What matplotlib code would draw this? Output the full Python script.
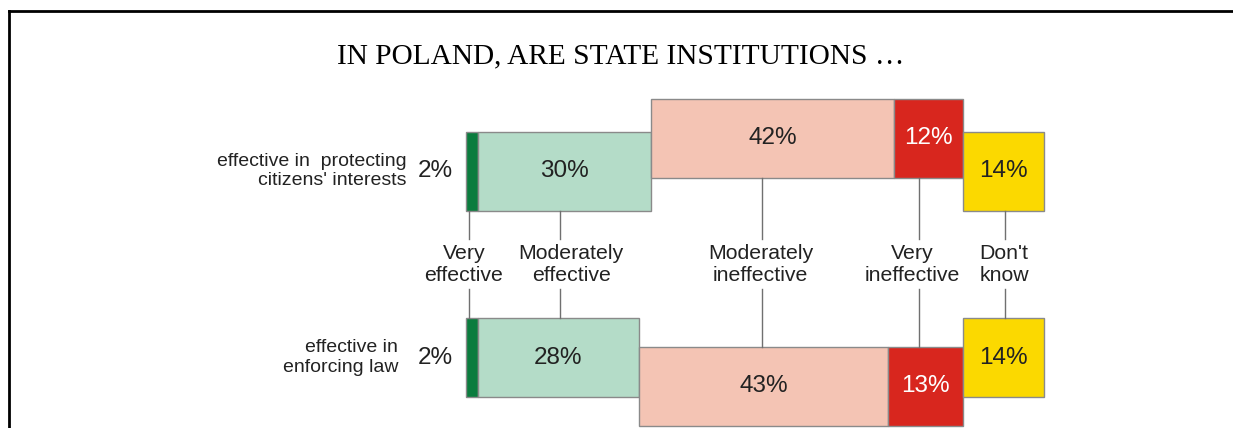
import numpy as np
import matplotlib.pyplot as plt
from matplotlib.lines import Line2D

# data
title = "IN POLAND, ARE STATE INSTITUTIONS …"
questions = ["effective in  protecting\ncitizens' interests", "effective in\nenforcing law"]
answers = ["Very\neffective", "Moderately\neffective", "Moderately\nineffective",
           "Very\nineffective", "Don't\nknow"]
protecting = [2, 30, 42, 12, 14]
enforcing = [2, 28, 43, 13, 14]
rows = [protecting, enforcing]

# style / layout
colors = ["#0b7c3e", "#b4dcc8", "#f4c4b4", "#d8261e", "#fbd900"]
text_colors = ["#222222", "#222222", "#222222", "#ffffff", "#222222"]
row_y = [171, 357.5]          # vertical centre of each row (pixels from top)
shift = [[0, 0, -33, -33, 0], [0, 0, 29, 29, 0]]   # ineffective parts moved up/down
bar_h = 79
label_x = [-0.35, 18.2, 51.0, 77.2, 93.1]
line_x = [0.5, 16.3, 51.2, 78.4, 93.3]
label_right = [-10.3, -11.7]

W, H = 1233, 428
px_per_pct = 5.78
x0 = 466

fig = plt.figure(figsize=(W / 100, H / 100), dpi=100)
ax = fig.add_axes([0, 0, 1, 1])
ax.set_xlim(-x0 / px_per_pct, (W - x0) / px_per_pct)
ax.set_ylim(H, 0)
ax.axis("off")

font = "Liberation Sans"

for r, vals in enumerate(rows):
    lefts = np.concatenate([[0], np.cumsum(vals)[:-1]])
    ys = [row_y[r] + s for s in shift[r]]
    ax.barh(ys, vals, left=lefts, height=bar_h, color=colors,
            edgecolor="#8a8a8a", linewidth=1)
    for i, v in enumerate(vals):
        if i == 0:
            ax.text(-2.2, ys[i], f"{v}%", ha="right", va="center",
                    fontsize=17.5, family=font, color="#222222")
        else:
            ax.text(lefts[i] + v / 2, ys[i], f"{v}%", ha="center", va="center",
                    fontsize=17.5, family=font, color=text_colors[i])
    ax.text(label_right[r], row_y[r], questions[r], ha="right", va="center",
            fontsize=14, family=font, color="#222222", linespacing=1.18)

# answer labels with leader lines
for i, a in enumerate(answers):
    top1 = row_y[0] + shift[0][i] + bar_h / 2
    bot2 = row_y[1] + shift[1][i] - bar_h / 2
    ax.plot([line_x[i], line_x[i]], [top1, 239], color="#707070", lw=1)
    ax.plot([line_x[i], line_x[i]], [289, bot2], color="#707070", lw=1)
    ax.text(label_x[i], 264.5, a, ha="center", va="center", fontsize=15.3,
            family=font, color="#222222", linespacing=1.25)

ax.text(0.503, 1 - 56 / H, title, transform=fig.transFigure, ha="center",
        va="center", fontsize=21.2, family="Liberation Serif", color="black")

# frame (top and left edges only visible)
fig.add_artist(Line2D([8.5 / W, 1], [1 - 11 / H, 1 - 11 / H], color="black", lw=2,
                      transform=fig.transFigure))
fig.add_artist(Line2D([8.5 / W, 8.5 / W], [0, 1 - 11 / H], color="black", lw=2,
                      transform=fig.transFigure))

fig.savefig("out.png", dpi=100)
